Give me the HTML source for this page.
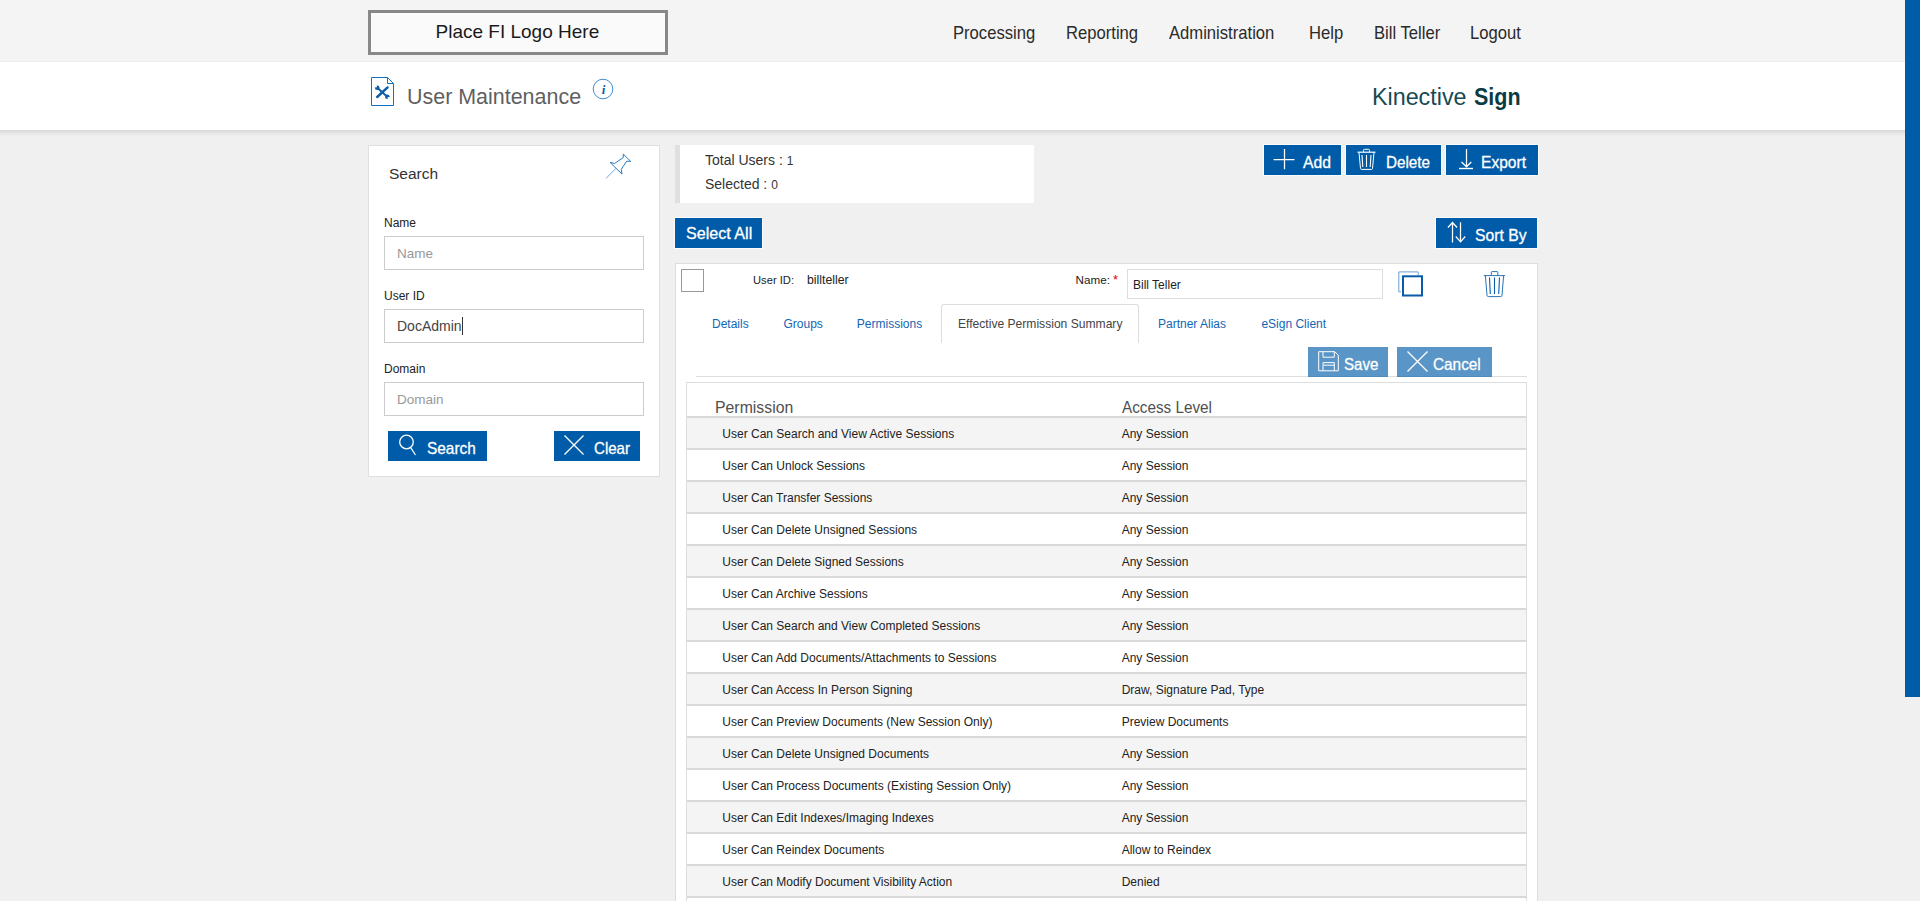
<!DOCTYPE html>
<html><head><meta charset="utf-8"><title>User Maintenance</title>
<style>
html,body{margin:0;padding:0;}
body{width:1920px;height:901px;overflow:hidden;background:#f0f0f0;position:relative;font-family:"Liberation Sans",Arial,sans-serif;}
.t{position:absolute;white-space:nowrap;text-decoration:none;margin:0;font-weight:400;}
svg{position:absolute;overflow:visible;}
.btn{position:absolute;background:#005ca8;}
.inp{position:absolute;left:384px;width:246px;height:32px;margin:0;border:1px solid #ccc;padding:0 0 0 12px;font-family:"Liberation Sans",Arial,sans-serif;font-size:13.5px;color:#444;background:#fff;outline:none;box-sizing:content-box;}
.inp::placeholder{color:#999;opacity:1;}
.inp2{position:absolute;left:1127px;top:269px;width:249px;height:26px;margin:0;border:1px solid #ddd;padding:2px 0 0 5px;font-family:"Liberation Sans",Arial,sans-serif;font-size:12px;color:#222;background:#fff;outline:none;box-sizing:content-box;}
table.perm{position:absolute;left:686px;top:382px;width:841px;border:1px solid #ddd;border-collapse:separate;border-spacing:0;table-layout:fixed;background:#fff;}
table.perm th{height:18px;padding:15px 0 0 27.5px;line-height:18px;font-size:17.4px;font-weight:400;color:#505050;text-align:left;white-space:nowrap;}
table.perm th span{display:inline-block;transform-origin:0 0;}
table.perm th.c2{padding-left:0;}
table.perm td{height:28px;padding:2px 0 0 35.3px;line-height:28px;font-size:12px;color:#222;border-top:2px solid #d9d9d9;white-space:nowrap;}
table.perm td.c2{padding-left:0.1px;}
table.perm tbody tr:nth-child(odd) td{background:#f4f4f4;}
</style></head><body>
<div style="position:absolute;left:0px;top:0px;width:1905px;height:62px;background:#f4f4f4"></div>
<div style="position:absolute;left:368px;top:10px;width:294px;height:39px;border:3px solid #888;background:#fafafa"></div>
<div class="t" style="left:435.5px;top:22px;font-size:19px;line-height:19px;color:#1a1a1a;font-weight:400;">Place FI Logo Here</div>
<nav><a class="t" style="left:952.6px;top:24px;font-size:18.2px;line-height:18.2px;color:#2a2a2a;font-weight:400;transform:scaleX(0.914);transform-origin:0 0;">Processing</a>
<a class="t" style="left:1065.9px;top:24px;font-size:18.2px;line-height:18.2px;color:#2a2a2a;font-weight:400;transform:scaleX(0.914);transform-origin:0 0;">Reporting</a>
<a class="t" style="left:1169.2px;top:24px;font-size:18.2px;line-height:18.2px;color:#2a2a2a;font-weight:400;transform:scaleX(0.914);transform-origin:0 0;">Administration</a>
<a class="t" style="left:1309.3px;top:24px;font-size:18.2px;line-height:18.2px;color:#2a2a2a;font-weight:400;transform:scaleX(0.914);transform-origin:0 0;">Help</a>
<a class="t" style="left:1373.6px;top:24px;font-size:18.2px;line-height:18.2px;color:#2a2a2a;font-weight:400;transform:scaleX(0.914);transform-origin:0 0;">Bill Teller</a>
<a class="t" style="left:1469.8px;top:24px;font-size:18.2px;line-height:18.2px;color:#2a2a2a;font-weight:400;transform:scaleX(0.914);transform-origin:0 0;">Logout</a>
</nav>
<div style="position:absolute;left:0px;top:61px;width:1905px;height:1px;background:#eeeeee"></div>
<div style="position:absolute;left:0px;top:62px;width:1905px;height:68px;background:#fff"></div>
<div style="position:absolute;left:0px;top:130px;width:1905px;height:6px;background:linear-gradient(#d9d9d9,#f0f0f0)"></div>
<svg style="left:370px;top:76px" width="26" height="32" viewBox="0 0 26 32">
<path d="M1.5 1.5 H17.5 L23.5 7.5 V29.5 H1.5 Z" fill="#fff" stroke="#1172c4" stroke-width="1"/>
<path d="M17.5 1.5 V7.5 H23.5" fill="none" stroke="#1172c4" stroke-width="1"/>
<path d="M7.5 12 L17 20.5" stroke="#0b5cab" stroke-width="2"/>
<path d="M17.6 11.4 L7.2 21" stroke="#0b5cab" stroke-width="2.4" stroke-linecap="round"/>
<circle cx="7.2" cy="11.7" r="2.3" fill="#0b5cab"/><circle cx="5.9" cy="10.4" r="1.1" fill="#fff"/>
<circle cx="17.3" cy="20.8" r="2.3" fill="#0b5cab"/><circle cx="18.6" cy="22.1" r="1.1" fill="#fff"/>
</svg>
<h1 class="t" style="left:407px;top:85px;font-size:22.9px;line-height:22.9px;color:#606060;font-weight:400;transform:scaleX(0.937);transform-origin:0 0;">User Maintenance</h1>
<svg style="left:592px;top:78px" width="22" height="22" viewBox="0 0 22 22">
<circle cx="11" cy="11" r="9.8" fill="none" stroke="#1f78c8" stroke-width="0.85"/>
<text x="11.6" y="15.6" font-family="Liberation Serif,serif" font-style="italic" font-weight="700" font-size="13" fill="#0b5cab" text-anchor="middle">i</text>
</svg>
<div class="t" style="left:1372px;top:85px;font-size:24.4px;line-height:24.4px;color:#174a53;font-weight:400;transform:scaleX(0.955);transform-origin:0 0;">Kinective</div>
<div class="t" style="left:1474px;top:86px;font-size:23.5px;line-height:23.5px;color:#0b3c45;font-weight:700;transform:scaleX(0.915);transform-origin:0 0;">Sign</div>
<div style="position:absolute;left:368px;top:145px;width:290px;height:330px;background:#fff;border:1px solid #e0e0e0"></div>
<div class="t" style="left:389px;top:166px;font-size:15.5px;line-height:15.5px;color:#333;font-weight:400;">Search</div>
<svg style="left:600px;top:150px" width="36" height="32" viewBox="600 150 36 32">
<path d="M623.3 154.1 L630.7 161.4 L626.6 161.2 L621.3 169.3 L622 174.1 L610.1 162.4 L614.6 163.5 L623.3 157.5 Z" fill="#fff" stroke="#1b75c2" stroke-width="0.95" stroke-linejoin="round"/>
<path d="M616 168.3 L606 178.4" stroke="#5d9ad3" stroke-width="0.9"/>
</svg>
<div class="t lbl" style="left:384px;top:217px;font-size:12px;line-height:12px;color:#222;font-weight:400;">Name</div>
<input class="inp" type="text" placeholder="Name" style="top:236px">
<div class="t lbl" style="left:384px;top:290px;font-size:12px;line-height:12px;color:#222;font-weight:400;">User ID</div>
<input class="inp" type="text" value="DocAdmin" style="top:309px;font-size:14px">
<div class="t lbl" style="left:384px;top:363px;font-size:12px;line-height:12px;color:#222;font-weight:400;">Domain</div>
<input class="inp" type="text" placeholder="Domain" style="top:382px">
<div style="position:absolute;left:462px;top:317px;width:1px;height:18px;background:#333"></div>
<div style="position:absolute;left:388px;top:431px;width:99px;height:30px;background:#005ca8"></div>
<svg style="left:398px;top:434px" width="20" height="24" viewBox="0 0 20 24">
<circle cx="8.5" cy="8" r="6.8" fill="none" stroke="#fff" stroke-width="1.3"/>
<path d="M12.7 13.6 L17.5 21" stroke="#fff" stroke-width="1.2"/>
</svg>
<div class="t" style="left:427px;top:440px;font-size:17px;line-height:17px;color:#fff;font-weight:400;transform:scaleX(0.906);transform-origin:0 0;-webkit-text-stroke:0.3px #fff;">Search</div>
<div style="position:absolute;left:554px;top:431px;width:86px;height:30px;background:#005ca8"></div>
<svg style="left:564px;top:435px" width="20" height="20" viewBox="0 0 20 20">
<path d="M0.5 0.5 L19.5 19.5 M19.5 0.5 L0.5 19.5" stroke="#fff" stroke-width="1.3"/>
</svg>
<div class="t" style="left:594px;top:440px;font-size:17px;line-height:17px;color:#fff;font-weight:400;transform:scaleX(0.886);transform-origin:0 0;-webkit-text-stroke:0.3px #fff;">Clear</div>
<div style="position:absolute;left:675px;top:145px;width:359px;height:58px;background:#fff;border-left:5px solid #e0e0e0;box-sizing:border-box"></div>
<div class="t" style="left:705px;top:153px;font-size:14px;line-height:14px;color:#333;font-weight:400;">Total Users : <span style="font-size:12px">1</span></div>
<div class="t" style="left:705px;top:177px;font-size:14px;line-height:14px;color:#333;font-weight:400;">Selected : <span style="font-size:12px">0</span></div>
<div style="position:absolute;left:1264px;top:145px;width:77px;height:30px;background:#005ca8;outline:1px solid rgba(255,255,255,0.7);"></div>
<svg style="left:1273px;top:148px" width="22" height="22" viewBox="0 0 22 22">
<path d="M0.6 11.5 H21.5 M11.5 1.1 V21.3" stroke="#fff" stroke-width="1.25"/>
</svg>
<div class="t" style="left:1303px;top:154px;font-size:17px;line-height:17px;color:#fff;font-weight:400;transform:scaleX(0.926);transform-origin:0 0;-webkit-text-stroke:0.3px #fff;">Add</div>
<div style="position:absolute;left:1346px;top:145px;width:95px;height:30px;background:#005ca8;outline:1px solid rgba(255,255,255,0.7);"></div>
<svg style="left:1356px;top:148px" width="22" height="24" viewBox="0 0 22 24">
<path d="M1.5 4.2 H19.5" stroke="#fff" stroke-width="1.2"/>
<path d="M7.5 4 V2.3 Q7.5 1.3 8.5 1.3 H12.5 Q13.5 1.3 13.5 2.3 V4" fill="none" stroke="#fff" stroke-width="1"/>
<path d="M3 4.5 L4.5 20.5 Q4.6 21.4 5.5 21.4 H15.5 Q16.4 21.4 16.5 20.5 L18 4.5" fill="none" stroke="#fff" stroke-width="1"/>
<path d="M6 7 L6.8 19 M10.5 7 V19 M15 7 L14.2 19" stroke="#fff" stroke-width="1.1"/>
</svg>
<div class="t" style="left:1385.7px;top:154px;font-size:17px;line-height:17px;color:#fff;font-weight:400;transform:scaleX(0.896);transform-origin:0 0;-webkit-text-stroke:0.3px #fff;">Delete</div>
<div style="position:absolute;left:1446px;top:145px;width:92px;height:30px;background:#005ca8;outline:1px solid rgba(255,255,255,0.7);"></div>
<svg style="left:1458px;top:148px" width="16" height="22" viewBox="0 0 16 22">
<path d="M8.5 1 V18.5 M3.5 14 L8.5 18.8 L13.3 14" fill="none" stroke="#fff" stroke-width="1.25"/>
<path d="M1 20.5 H15" stroke="#fff" stroke-width="1.4"/>
</svg>
<div class="t" style="left:1481.2px;top:154px;font-size:17px;line-height:17px;color:#fff;font-weight:400;transform:scaleX(0.916);transform-origin:0 0;-webkit-text-stroke:0.3px #fff;">Export</div>
<div style="position:absolute;left:675px;top:218px;width:87px;height:30px;background:#005ca8;outline:1px solid rgba(255,255,255,0.7);"></div>
<div class="t" style="left:685.5px;top:225px;font-size:17px;line-height:17px;color:#fff;font-weight:400;transform:scaleX(0.947);transform-origin:0 0;-webkit-text-stroke:0.3px #fff;">Select All</div>
<div style="position:absolute;left:1436px;top:218px;width:101px;height:30px;background:#005ca8;outline:1px solid rgba(255,255,255,0.7);"></div>
<svg style="left:1446px;top:221px" width="22" height="24" viewBox="0 0 22 24">
<path d="M6.5 1.5 V21.5 M1.9 6.5 L6.5 1.5 L11.1 6.5" fill="none" stroke="#fff" stroke-width="1.25"/>
<path d="M14.5 1.3 V20.8 M9.8 15.5 L14.5 20.8 L19.2 15.5" fill="none" stroke="#fff" stroke-width="1.25"/>
</svg>
<div class="t" style="left:1475.2px;top:227px;font-size:17px;line-height:17px;color:#fff;font-weight:400;transform:scaleX(0.924);transform-origin:0 0;-webkit-text-stroke:0.3px #fff;">Sort By</div>
<div style="position:absolute;left:675px;top:263px;width:861px;height:700px;background:#fff;border:1px solid #ddd"></div>
<div style="position:absolute;left:681px;top:269px;width:21px;height:21px;border:1px solid #999;background:#fff"></div>
<div class="t" style="left:753px;top:275px;font-size:11.2px;line-height:11.2px;color:#222;font-weight:400;">User ID:</div>
<div class="t" style="left:807px;top:274px;font-size:12.3px;line-height:12.3px;color:#222;font-weight:400;">billteller</div>
<div class="t" style="left:1075.5px;top:274px;font-size:11.7px;line-height:11.7px;color:#222;font-weight:400;">Name:</div>
<div class="t" style="left:1113px;top:273px;font-size:13px;line-height:13px;color:#e00;font-weight:400;">*</div>
<input class="inp2" type="text" value="Bill Teller">
<svg style="left:1396px;top:269px" width="30" height="30" viewBox="1396 269 30 30">
<path d="M1401 291.8 H1398.8 V271.9 H1418.2 V275" fill="none" stroke="#6a9fd0" stroke-width="1"/>
<rect x="1403" y="276.3" width="19" height="19.2" fill="#fff" stroke="#0a5cab" stroke-width="2"/>
</svg>
<svg style="left:1480px;top:269px" width="30" height="30" viewBox="1480 269 30 30">
<path d="M1483.8 275.6 H1505" stroke="#2a72b8" stroke-width="1"/>
<path d="M1491.3 275.3 V272.4 Q1491.3 271.6 1492.1 271.6 H1497 Q1497.8 271.6 1497.8 272.4 V275.3" fill="none" stroke="#2a72b8" stroke-width="1"/>
<path d="M1485.4 275.8 L1487 295.3 Q1487.2 296.6 1488.5 296.6 H1500.6 Q1501.9 296.6 1502 295.3 L1503.6 275.8" fill="none" stroke="#2a72b8" stroke-width="1"/>
<path d="M1489.5 277.5 L1490.3 294 M1494.5 277.5 V294 M1499.5 277.5 L1498.7 294" stroke="#0a5cab" stroke-width="1.1"/>
</svg>
<div style="position:absolute;left:941px;top:304px;width:196px;height:38px;background:#fff;border:1px solid #ddd;border-bottom:none;border-radius:3px 3px 0 0"></div>
<a class="t" style="left:712px;top:318px;font-size:12px;line-height:12px;color:#1266b4;font-weight:400;">Details</a>
<a class="t" style="left:783.5px;top:318px;font-size:12px;line-height:12px;color:#1266b4;font-weight:400;">Groups</a>
<a class="t" style="left:856.8px;top:318px;font-size:12px;line-height:12px;color:#1266b4;font-weight:400;">Permissions</a>
<a class="t" style="left:1158px;top:318px;font-size:12px;line-height:12px;color:#1266b4;font-weight:400;">Partner Alias</a>
<a class="t" style="left:1261.4px;top:318px;font-size:12px;line-height:12px;color:#1266b4;font-weight:400;">eSign Client</a>
<div class="t" style="left:958px;top:318px;font-size:12.1px;line-height:12.1px;color:#444;font-weight:400;">Effective Permission Summary</div>
<div style="position:absolute;left:696px;top:376px;width:831px;height:1px;background:#ddd"></div>
<div style="position:absolute;left:1308px;top:347px;width:80px;height:30px;background:#005ca8;opacity:0.65"></div>
<svg style="left:1317px;top:350px" width="24" height="24" viewBox="1317 350 24 24">
<path d="M1318.7 351.7 H1334.8 L1338.3 355.2 V370.8 H1318.7 Z" fill="none" stroke="#fff" stroke-width="1"/>
<path d="M1323 351.7 V357.2 H1334.3 V351.7" fill="none" stroke="#fff" stroke-width="1"/>
<path d="M1323 370.8 V362.6 H1334.3 V370.8 M1323.5 365.2 H1334" fill="none" stroke="#fff" stroke-width="1"/>
</svg>
<div class="t" style="left:1344px;top:356px;font-size:17px;line-height:17px;color:#fff;font-weight:400;transform:scaleX(0.888);transform-origin:0 0;-webkit-text-stroke:0.3px #fff;">Save</div>
<div style="position:absolute;left:1397px;top:347px;width:95px;height:30px;background:#005ca8;opacity:0.65"></div>
<svg style="left:1407px;top:351px" width="21" height="21" viewBox="0 0 21 21">
<path d="M0.5 0.5 L20.5 20.5 M20.5 0.5 L0.5 20.5" stroke="#fff" stroke-width="1.3"/>
</svg>
<div class="t" style="left:1433px;top:356px;font-size:17px;line-height:17px;color:#fff;font-weight:400;transform:scaleX(0.903);transform-origin:0 0;-webkit-text-stroke:0.3px #fff;">Cancel</div>
<table class="perm"><colgroup><col style="width:434.6px"><col></colgroup><thead><tr><th><span style="transform:scaleX(0.91)">Permission</span></th><th class="c2"><span style="transform:scaleX(0.878)">Access Level</span></th></tr></thead><tbody><tr><td>User Can Search and View Active Sessions</td><td class="c2">Any Session</td></tr><tr><td>User Can Unlock Sessions</td><td class="c2">Any Session</td></tr><tr><td>User Can Transfer Sessions</td><td class="c2">Any Session</td></tr><tr><td>User Can Delete Unsigned Sessions</td><td class="c2">Any Session</td></tr><tr><td>User Can Delete Signed Sessions</td><td class="c2">Any Session</td></tr><tr><td>User Can Archive Sessions</td><td class="c2">Any Session</td></tr><tr><td>User Can Search and View Completed Sessions</td><td class="c2">Any Session</td></tr><tr><td>User Can Add Documents/Attachments to Sessions</td><td class="c2">Any Session</td></tr><tr><td>User Can Access In Person Signing</td><td class="c2">Draw, Signature Pad, Type</td></tr><tr><td>User Can Preview Documents (New Session Only)</td><td class="c2">Preview Documents</td></tr><tr><td>User Can Delete Unsigned Documents</td><td class="c2">Any Session</td></tr><tr><td>User Can Process Documents (Existing Session Only)</td><td class="c2">Any Session</td></tr><tr><td>User Can Edit Indexes/Imaging Indexes</td><td class="c2">Any Session</td></tr><tr><td>User Can Reindex Documents</td><td class="c2">Allow to Reindex</td></tr><tr><td>User Can Modify Document Visibility Action</td><td class="c2">Denied</td></tr><tr><td>User Can View Audit History</td><td class="c2">Any Session</td></tr></tbody></table>
<div style="position:absolute;left:1905px;top:0px;width:15px;height:697px;background:#005ca8"></div>
</body></html>
